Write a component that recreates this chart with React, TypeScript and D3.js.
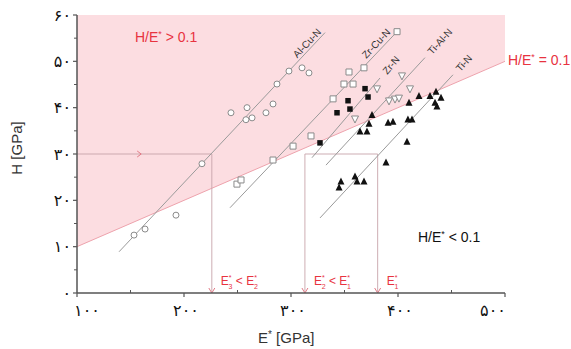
import React from "react";
import * as d3 from "d3";

// ---------- data ----------
const X_TICKS = [100, 200, 300, 400, 500];
const X_TICK_LABELS = ["۱۰۰", "۲۰۰", "۳۰۰", "۴۰۰", "۵۰۰"];
const Y_TICKS = [0, 10, 20, 30, 40, 50, 60];
const Y_TICK_LABELS = ["۰", "۱۰", "۲۰", "۳۰", "۴۰", "۵۰", "۶۰"];

// Al-Cu-N (open circles)
const ALCUN_E = [153.3, 163.6, 192.5, 216.8, 243.9, 258.9, 257.9, 263.6, 276.6, 283.2, 286.9, 298.1, 310.3, 316.8];
const ALCUN_H = [12.5, 13.8, 16.8, 27.9, 38.9, 40.0, 37.4, 37.8, 38.9, 40.8, 45.1, 47.9, 48.6, 47.5];
// Zr-Cu-N (open squares)
const ZRCUN_E = [249.5, 253.3, 283.2, 301.9, 318.7, 339.3, 349.5, 358.0, 354.2, 368.2, 399.1];
const ZRCUN_H = [23.5, 24.4, 28.7, 31.7, 33.9, 41.9, 45.1, 45.1, 47.7, 48.6, 56.4];
// Zr-N (filled squares)
const ZRN_E = [327.1, 343.0, 353.3, 355.1, 369.2, 372.0];
const ZRN_H = [32.4, 38.9, 41.5, 39.7, 44.1, 42.3];
// Ti-Al-N (open down triangles)
const TIALN_E = [359.8, 380.4, 391.6, 397.2, 400.9, 403.7, 411.2];
const TIALN_H = [37.6, 44.1, 41.5, 41.9, 42.1, 46.9, 44.1];
// Ti-N (filled triangles)
const TIN_E = [344.9, 346.7, 359.8, 361.7, 368.2, 388.8, 408.4, 375.7, 372.9, 364.5, 371.0, 390.7, 395.3, 409.3, 413.1, 410.3, 419.6, 429.9, 435.5, 440.2, 434.6, 436.4];
const TIN_H = [22.7, 24.0, 25.1, 24.0, 24.0, 28.1, 32.6, 38.4, 36.5, 34.8, 34.8, 36.7, 36.9, 37.4, 37.4, 41.0, 42.5, 42.5, 43.4, 42.1, 41.0, 40.2];

// fitted lines
const FIT_NAMES = ["Al-Cu-N", "Zr-Cu-N", "Zr-N", "Ti-Al-N", "Ti-N"];
const FIT_E0 = [139.3, 243.0, 319.6, 332.7, 327.1];
const FIT_H0 = [8.9, 18.4, 29.2, 27.6, 16.2];
const FIT_E1 = [331.8, 399.1, 383.2, 425.2, 451.4];
const FIT_H1 = [56.2, 56.4, 46.4, 50.8, 47.1];

// H/E* = 0.1 boundary
const RATIO = 0.1;
const H_REF = 30;
const E_REFS = [226, 313, 381]; // E3*, E2*, E1*

// ---------- layout / style ----------
const W = 571, H = 349;
const x = d3.scaleLinear().domain([100, 500]).range([77, 505]);
const y = d3.scaleLinear().domain([0, 60]).range([293, 15]);
const RED = "#e8333f";
const LABEL_ALONG = [-20, -23, 17, 22, 16];
const LABEL_NORMAL = [6, 7, 0, 0, 0];

function ELabel({ px, py, a, b }: { px: number; py: number; a: string; b?: string }) {
  return (
    <text x={px} y={py} fill={RED} fontSize={12} fontFamily="Liberation Sans, Arial, sans-serif">
      E<tspan fontSize={7} dy={-5}>*</tspan>
      <tspan fontSize={7} dx={-3} dy={9}>{a}</tspan>
      {b !== undefined && (
        <>
          <tspan dy={-4}>{" < E"}</tspan>
          <tspan fontSize={7} dy={-5}>*</tspan>
          <tspan fontSize={7} dx={-3} dy={9}>{b}</tspan>
        </>
      )}
    </text>
  );
}

function Ratio({ px, py, op, color }: { px: number; py: number; op: string; color: string }) {
  return (
    <text x={px} y={py} fill={color} fontSize={14} fontFamily="Liberation Sans, Arial, sans-serif">
      H/E<tspan fontSize={9} dy={-5}>*</tspan>
      <tspan dy={5}>{` ${op} 0.1`}</tspan>
    </text>
  );
}

export default function App() {
  const pinkPoly = [
    [100, 100 * RATIO],
    [100, 60],
    [500, 60],
    [500, 500 * RATIO],
  ];
  const polyPath = d3.line()(pinkPoly.map(([e, h]) => [x(e), y(h)]) as [number, number][]) + "Z";

  const xMinor = d3.range(150, 500, 100);
  const yMinor = d3.range(5, 60, 10);

  const refLine = "#c7a4aa";
  const arrowC = "#e27a86";

  const sq = (cx: number, cy: number, s: number) => `M${cx - s / 2},${cy - s / 2}h${s}v${s}h${-s}Z`;
  const triUp = (cx: number, cy: number, s: number) =>
    `M${cx},${cy - s * 0.6}L${cx + s / 2},${cy + s * 0.4}L${cx - s / 2},${cy + s * 0.4}Z`;
  const triDown = (cx: number, cy: number, s: number) =>
    `M${cx},${cy + s * 0.6}L${cx + s / 2},${cy - s * 0.4}L${cx - s / 2},${cy - s * 0.4}Z`;

  return (
    <svg width={W} height={H} style={{ position: "absolute", left: 0, top: 0, background: "#fff" }}>
      {/* pink region H/E* > 0.1 */}
      <path d={polyPath} fill="#fcdde1" stroke="none" />
      <line x1={x(100)} y1={y(100 * RATIO)} x2={x(500)} y2={y(500 * RATIO)} stroke="#eea3ad" strokeWidth={1} />

      {/* reference lines */}
      <line x1={x(100)} y1={y(H_REF)} x2={x(E_REFS[0])} y2={y(H_REF)} stroke={refLine} strokeWidth={0.9} />
      <line x1={x(E_REFS[1])} y1={y(H_REF)} x2={x(E_REFS[2])} y2={y(H_REF)} stroke={refLine} strokeWidth={0.9} />
      <path
        d={`M${x(160) - 4},${y(H_REF) - 3}L${x(160)},${y(H_REF)}L${x(160) - 4},${y(H_REF) + 3}`}
        fill="none"
        stroke={arrowC}
        strokeWidth={1}
      />
      {E_REFS.map((e, i) => (
        <g key={"vr" + i}>
          <line x1={x(e)} y1={y(H_REF)} x2={x(e)} y2={y(0)} stroke={refLine} strokeWidth={0.9} />
          <path
            d={`M${x(e) - 3},${y(0) - 5}L${x(e)},${y(0)}L${x(e) + 3},${y(0) - 5}`}
            fill="none"
            stroke={arrowC}
            strokeWidth={1}
          />
        </g>
      ))}

      {/* fitted lines + labels */}
      {FIT_NAMES.map((name, i) => {
        const x0 = x(FIT_E0[i]), y0 = y(FIT_H0[i]), x1 = x(FIT_E1[i]), y1 = y(FIT_H1[i]);
        const len = Math.hypot(x1 - x0, y1 - y0);
        const dx = (x1 - x0) / len, dy = (y1 - y0) / len;
        const nx = dy, ny = -dx; // up-left normal
        const lx = x1 + dx * LABEL_ALONG[i] + nx * LABEL_NORMAL[i];
        const ly = y1 + dy * LABEL_ALONG[i] + ny * LABEL_NORMAL[i];
        const ang = (Math.atan2(dy, dx) * 180) / Math.PI;
        return (
          <g key={name}>
            <line x1={x0} y1={y0} x2={x1} y2={y1} stroke="#9a9a9a" strokeWidth={1} />
            <text
              x={lx}
              y={ly}
              transform={`rotate(${ang},${lx},${ly})`}
              textAnchor="middle"
              dominantBaseline="central"
              fontSize={10}
              fill="#333"
              fontFamily="Liberation Sans, Arial, sans-serif"
            >
              {name}
            </text>
          </g>
        );
      })}

      {/* data markers */}
      {ALCUN_E.map((e, i) => (
        <circle key={"c" + i} cx={x(e)} cy={y(ALCUN_H[i])} r={3} fill="#fff" stroke="#8a8a8a" strokeWidth={1} />
      ))}
      {ZRCUN_E.map((e, i) => (
        <path key={"s" + i} d={sq(x(e), y(ZRCUN_H[i]), 6)} fill="#fff" stroke="#8a8a8a" strokeWidth={1} />
      ))}
      {ZRN_E.map((e, i) => (
        <path key={"fs" + i} d={sq(x(e), y(ZRN_H[i]), 5.5)} fill="#111" stroke="none" />
      ))}
      {TIALN_E.map((e, i) => (
        <path key={"td" + i} d={triDown(x(e), y(TIALN_H[i]), 7)} fill="#fff" stroke="#8a8a8a" strokeWidth={1} />
      ))}
      {TIN_E.map((e, i) => (
        <path key={"tu" + i} d={triUp(x(e), y(TIN_H[i]), 7)} fill="#111" stroke="none" />
      ))}

      {/* axes */}
      <line x1={x(100)} y1={y(0)} x2={x(500)} y2={y(0)} stroke="#555" strokeWidth={1.5} />
      <line x1={x(100)} y1={y(0)} x2={x(100)} y2={y(60)} stroke="#555" strokeWidth={1.5} />
      {X_TICKS.map((t, i) => (
        <g key={"xt" + i}>
          <line x1={x(t)} y1={y(0)} x2={x(t)} y2={y(0) + 4} stroke="#555" strokeWidth={1.2} />
          <text
            x={x(t) + (i === 0 ? 10 : i === X_TICKS.length - 1 ? -12 : 2)}
            y={y(0) + 23}
            textAnchor="middle"
            fontSize={16}
            fill="#111"
            fontFamily="DejaVu Sans, sans-serif"
          >
            {X_TICK_LABELS[i]}
          </text>
        </g>
      ))}
      {xMinor.map((t) => (
        <line key={"xm" + t} x1={x(t)} y1={y(0)} x2={x(t)} y2={y(0) - 3} stroke="#555" strokeWidth={1} />
      ))}
      {Y_TICKS.map((t, i) => (
        <g key={"yt" + i}>
          <line x1={x(100) - 4} y1={y(t)} x2={x(100)} y2={y(t)} stroke="#555" strokeWidth={1.2} />
          <text
            x={x(100) - 6}
            y={y(t)}
            textAnchor="end"
            dominantBaseline="central"
            fontSize={16}
            fill="#111"
            fontFamily="DejaVu Sans, sans-serif"
          >
            {Y_TICK_LABELS[i]}
          </text>
        </g>
      ))}
      {yMinor.map((t) => (
        <line key={"ym" + t} x1={x(100) - 3} y1={y(t)} x2={x(100)} y2={y(t)} stroke="#555" strokeWidth={1} />
      ))}

      {/* axis titles */}
      <text
        x={22}
        y={148}
        transform="rotate(-90,22,148)"
        textAnchor="middle"
        fontSize={15}
        fill="#333"
        fontFamily="Liberation Sans, Arial, sans-serif"
      >
        H [GPa]
      </text>
      <text x={258} y={343} fontSize={15} fill="#333" fontFamily="Liberation Sans, Arial, sans-serif">
        E<tspan fontSize={10} dy={-5}>*</tspan>
        <tspan dy={5}> [GPa]</tspan>
      </text>

      {/* region labels */}
      <Ratio px={135} py={42} op=">" color={RED} />
      <Ratio px={508} py={65} op="=" color={RED} />
      <Ratio px={418} py={242} op="<" color="#111" />

      {/* E* labels */}
      <ELabel px={x(E_REFS[0]) + 9} py={285} a="3" b="2" />
      <ELabel px={x(E_REFS[1]) + 9} py={285} a="2" b="1" />
      <ELabel px={x(E_REFS[2]) + 9} py={285} a="1" />
    </svg>
  );
}
